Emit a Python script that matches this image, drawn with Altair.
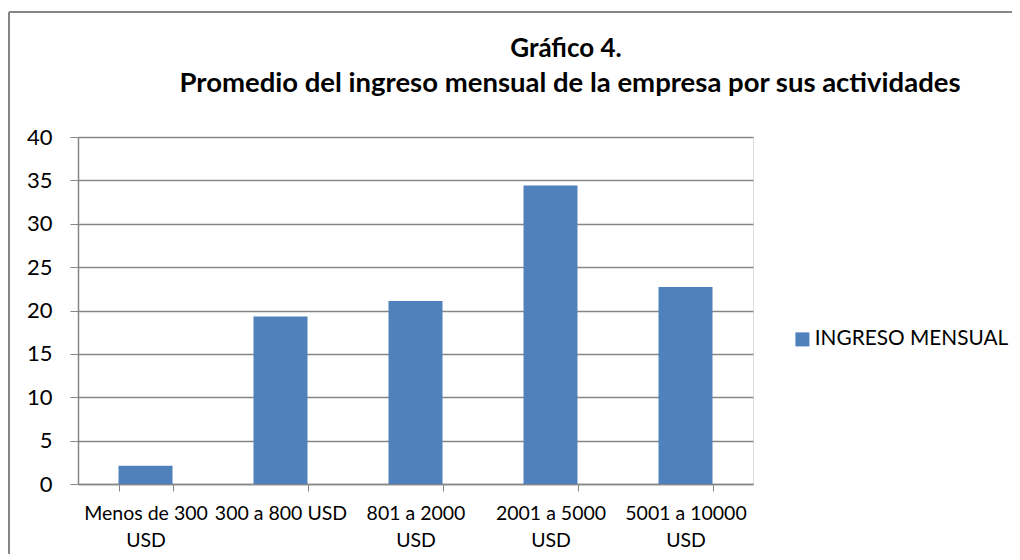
import altair as alt
import pandas as pd

categories = ["Menos de 300|USD", "300 a 800 USD", "801 a 2000|USD", "2001 a 5000|USD", "5001 a 10000|USD"]
values = [2.1, 19.3, 21.1, 34.4, 22.7]
series_name = "INGRESO MENSUAL"
y_ticks = [0, 5, 10, 15, 20, 25, 30, 35, 40]
title_lines = ["Gráfico 4.", "Promedio del ingreso mensual de la empresa por sus actividades"]

df = pd.DataFrame({"cat": categories, "val": values, "serie": [series_name] * len(categories)})

FONT = "Lato"
GRAY = "#868686"
W, H = 675, 347
PAD_L, PAD_T = 70, 129

bars = alt.Chart(df).mark_bar(color="#4F81BD").encode(
    x=alt.X("cat:N", sort=categories, title=None,
            scale=alt.Scale(paddingInner=0.6, paddingOuter=0.3),
            axis=alt.Axis(labelExpr="split(datum.label, '|')", labelAngle=0,
                          labelFont=FONT, labelFontSize=19.5, labelColor="#000000",
                          labelLineHeight=27, labelPadding=13,
                          tickBand="extent", tickSize=7, tickColor=GRAY,
                          domainColor=GRAY, domainWidth=1.5, grid=False)),
    y=alt.Y("val:Q", title=None,
            scale=alt.Scale(domain=[0, 40], nice=False),
            axis=alt.Axis(values=y_ticks, labelFont=FONT, labelFontSize=22,
                          labelColor="#000000", labelPadding=18, tickSize=8,
                          tickColor=GRAY, domainColor=GRAY, domainWidth=1.5,
                          gridColor=GRAY, gridWidth=1.5)),
    color=alt.Color("serie:N", scale=alt.Scale(range=["#4F81BD"]),
                    legend=alt.Legend(title=None, orient="none", legendX=714, legendY=192,
                                      symbolType="square", symbolSize=196,
                                      symbolStrokeWidth=0, labelFont=FONT,
                                      labelFontSize=20.8, labelColor="#000000",
                                      labelOffset=2, labelLimit=0, padding=0)),
)

title_df = pd.DataFrame({"line": title_lines, "idx": [0, 1]})
title1 = alt.Chart(title_df[title_df.idx == 0]).mark_text(
    font=FONT, fontSize=26, fontWeight="bold", color="#000000",
    align="center", baseline="alphabetic").encode(
    text="line:N", x=alt.value(488), y=alt.value(-80))
title2 = alt.Chart(title_df[title_df.idx == 1]).mark_text(
    font=FONT, fontSize=27.5, fontWeight="bold", color="#000000",
    align="center", baseline="alphabetic").encode(
    text="line:N", x=alt.value(492), y=alt.value(-45))

border_df = pd.DataFrame({"k": [0]})
left_border = alt.Chart(border_df).mark_rule(color=GRAY, strokeWidth=2).encode(
    x=alt.value(-69), y=alt.value(-125), y2=alt.value(H + 200))
top_border = alt.Chart(border_df).mark_rule(color=GRAY, strokeWidth=2).encode(
    x=alt.value(-69), x2=alt.value(W + 300), y=alt.value(-125))

chart = alt.layer(bars, title1, title2, left_border, top_border).properties(
    width=W, height=H,
    padding={"left": PAD_L, "top": PAD_T, "right": 259, "bottom": 70},
    autosize=alt.AutoSizeParams(type="none"),
).configure_view(stroke=None).configure(background="white")

chart.save("out.html", embed_options={"renderer": "svg", "actions": False})
